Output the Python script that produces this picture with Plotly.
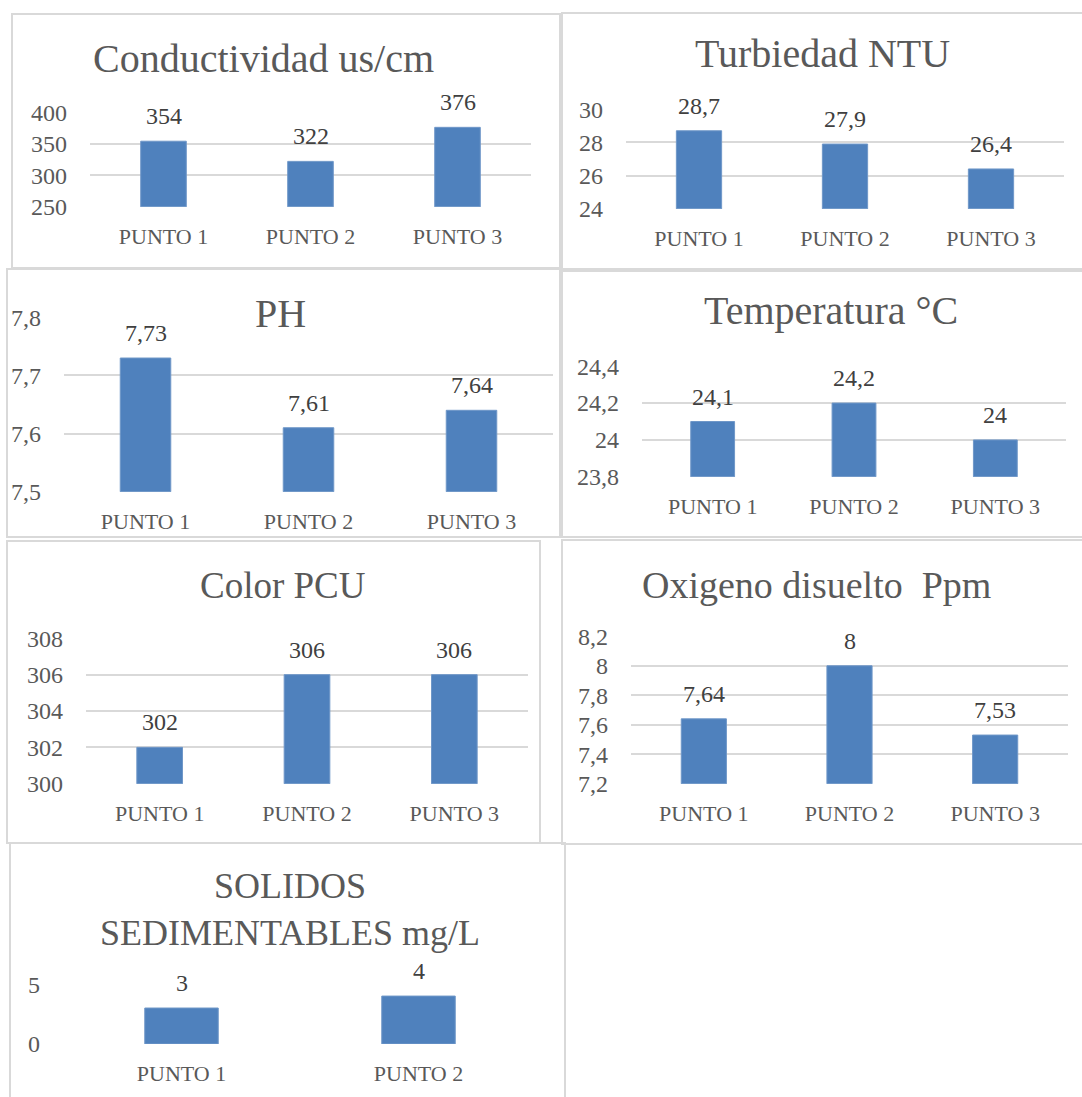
import plotly.graph_objects as go

W, H = 1082, 1097

# Sampling points
puntos3 = ["PUNTO 1", "PUNTO 2", "PUNTO 3"]
puntos2 = ["PUNTO 1", "PUNTO 2"]

# Measured parameters
conductividad = [354, 322, 376]
turbiedad = [28.7, 27.9, 26.4]
ph = [7.73, 7.61, 7.64]
temperatura = [24.1, 24.2, 24.0]
color_pcu = [302, 306, 306]
oxigeno = [7.64, 8, 7.53]
solidos = [3, 4]

# Axis tick values
ticks_cond = [250, 300, 350, 400]
ticks_turb = [24, 26, 28, 30]
ticks_ph = [7.5, 7.6, 7.7, 7.8]
ticks_temp = [23.8, 24.0, 24.2, 24.4]
ticks_color = [300, 302, 304, 306, 308]
ticks_oxi = [7.2, 7.4, 7.6, 7.8, 8.0, 8.2]
ticks_sol = [0, 5]

# Chart titles
titulos = [
    "Conductividad us/cm",
    "Turbiedad NTU",
    "PH",
    "Temperatura °C",
    "Color PCU",
    "Oxigeno disuelto  Ppm",
    "SOLIDOS<br>SEDIMENTABLES mg/L",
]

FONT = "Liberation Serif"
BAR = "#4f81bd"
GRID = "#d9d9d9"
TXT = "#595959"
LBL = "#404040"


def fmt(v):
    return f"{v:g}".replace(".", ",")


# Panel geometry in pixels: frame box, plot area, title position and size
panels = [
    dict(cats=puntos3, vals=conductividad, ticks=ticks_cond,
         box=(12, 14, 560, 268), plot=(90, 112, 531, 207), tpos=(263, 58), tsize=40),
    dict(cats=puntos3, vals=turbiedad, ticks=ticks_turb,
         box=(562, 13, 1084, 269), plot=(626, 109, 1064, 209), tpos=(822, 53), tsize=40),
    dict(cats=puntos3, vals=ph, ticks=ticks_ph,
         box=(7, 269, 560, 537), plot=(64, 317, 553, 492), tpos=(280, 313), tsize=40),
    dict(cats=puntos3, vals=temperatura, ticks=ticks_temp,
         box=(562, 271, 1084, 537), plot=(642, 366, 1066, 477), tpos=(831, 310), tsize=40),
    dict(cats=puntos3, vals=color_pcu, ticks=ticks_color,
         box=(7, 541, 540, 843), plot=(86, 638, 528, 784), tpos=(283, 585), tsize=37),
    dict(cats=puntos3, vals=oxigeno, ticks=ticks_oxi,
         box=(562, 540, 1084, 844), plot=(631, 636, 1068, 784), tpos=(816, 585), tsize=38),
    dict(cats=puntos2, vals=solidos, ticks=ticks_sol,
         box=(10, 843, 565, 1102), plot=(63, 984, 537, 1044), tpos=(290, 909), tsize=36),
]

fig = go.Figure()
layout = dict(
    width=W, height=H,
    margin=dict(l=0, r=0, t=0, b=0, autoexpand=False),
    paper_bgcolor="white", plot_bgcolor="white",
    showlegend=False,
    font=dict(family=FONT, color=TXT),
)
shapes = []
annotations = []

for i, (p, titulo) in enumerate(zip(panels, titulos), start=1):
    sfx = "" if i == 1 else str(i)
    xa, ya = "x" + sfx, "y" + sfx
    x0, y0, x1, y1 = p["plot"]
    lo, hi = min(p["ticks"]), max(p["ticks"])
    pad = (hi - lo) * 0.002

    fig.add_trace(go.Bar(
        x=p["cats"], y=[v - lo for v in p["vals"]], base=lo,
        width=0.31, marker=dict(color=BAR, line=dict(color="#6f97c8", width=1)),
        xaxis=xa, yaxis=ya, hoverinfo="skip",
    ))

    layout["xaxis" + sfx] = dict(
        domain=[x0 / W, x1 / W], anchor=ya, type="category",
        showgrid=False, zeroline=False, showline=False,
        ticks="", ticklabelstandoff=14,
        tickfont=dict(family=FONT, size=22, color=TXT),
        fixedrange=True,
    )
    layout["yaxis" + sfx] = dict(
        domain=[1 - y1 / H, 1 - y0 / H], anchor=xa,
        range=[lo - pad, hi + pad],
        tickmode="array", tickvals=p["ticks"],
        ticktext=[fmt(t) for t in p["ticks"]],
        showgrid=True, gridcolor=GRID, gridwidth=2,
        zeroline=False, showline=False, ticks="",
        ticklabelstandoff=22,
        tickfont=dict(family=FONT, size=24, color=TXT),
        fixedrange=True,
    )

    for c, v in zip(p["cats"], p["vals"]):
        annotations.append(dict(
            x=c, y=v, xref=xa, yref=ya, text=fmt(v),
            showarrow=False, yanchor="bottom", yshift=10,
            font=dict(family=FONT, size=24, color=LBL),
        ))

    tx, ty = p["tpos"]
    annotations.append(dict(
        x=tx / W, y=1 - ty / H, xref="paper", yref="paper",
        text=titulo, showarrow=False, xanchor="center", yanchor="middle",
        font=dict(family=FONT, size=p["tsize"], color=TXT),
    ))

    bx0, by0, bx1, by1 = p["box"]
    shapes.append(dict(
        type="rect", xref="paper", yref="paper",
        x0=bx0 / W, x1=bx1 / W, y0=1 - by1 / H, y1=1 - by0 / H,
        line=dict(color=GRID, width=2), fillcolor="rgba(0,0,0,0)",
        layer="below",
    ))

layout["shapes"] = shapes
layout["annotations"] = annotations
fig.update_layout(**layout)

fig.write_html("out.html")
